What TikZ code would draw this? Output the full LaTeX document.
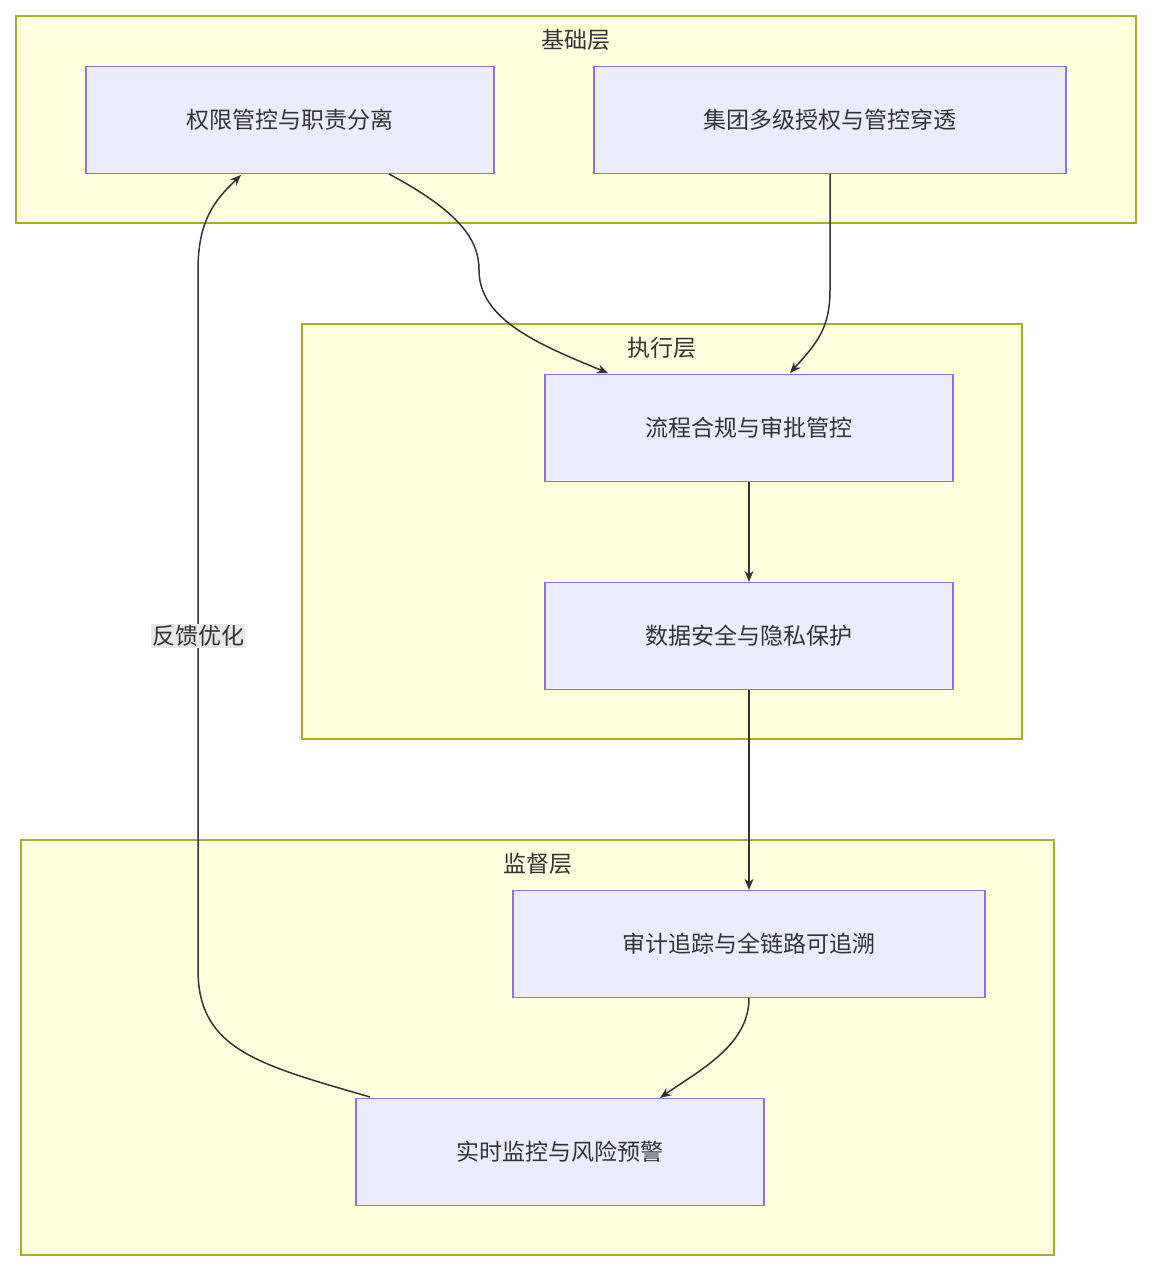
\documentclass[tikz,border=0pt]{standalone}
\usepackage{fontspec}
\setmainfont{Noto Sans CJK SC}
\usetikzlibrary{arrows.meta}
\definecolor{clf}{HTML}{FFFFDE}
\definecolor{cls}{HTML}{AAAA33}
\definecolor{ndf}{HTML}{ECECFF}
\definecolor{nds}{HTML}{9370DB}
\definecolor{ed}{HTML}{333333}
\definecolor{lbg}{HTML}{E8E8E8}
\begin{document}
\begin{tikzpicture}[x=1pt,y=-1pt,
  cluster/.style={draw=cls,fill=clf,line width=1.3pt},
  ctitle/.style={text=ed,font=\fontsize{23}{26}\selectfont,inner sep=0pt},
  box/.style={draw=nds,fill=ndf,line width=1.3pt,minimum height=107pt,text=ed,font=\fontsize{23}{26}\selectfont},
  arr/.style={draw=ed,line width=1.5pt,-{Stealth[length=11pt,width=9pt]}}]
\useasboundingbox (0,0) rectangle (1152,1272);
\draw[cluster] (16,16) rectangle (1136,223);
\draw[cluster] (302,324) rectangle (1022,739);
\draw[cluster] (21,840) rectangle (1054,1255);
\node[ctitle] (t1) at (576,40) {基础层};
\node[ctitle] (t2) at (662,348) {执行层};
\node[ctitle] (t3) at (538,864) {监督层};
\node[box,minimum width=408pt] (A) at (290,120) {权限管控与职责分离};
\node[box,minimum width=472pt] (B) at (830,120) {集团多级授权与管控穿透};
\node[box,minimum width=408pt] (C) at (749,428) {流程合规与审批管控};
\node[box,minimum width=408pt] (D) at (749,636) {数据安全与隐私保护};
\node[box,minimum width=472pt] (E) at (749,944) {审计追踪与全链路可追溯};
\node[box,minimum width=408pt] (F) at (560,1152) {实时监控与风险预警};
\coordinate (a1) at (389,174);
\coordinate (c1) at (608,373);
\coordinate (c2) at (790,373);
\coordinate (f1) at (370,1097);
\coordinate (a2) at (241,175);
\draw[arr] (a1) .. controls (460,212) and (479,240) .. (479,270) .. controls (479,320) and (540,345) .. (c1);
\draw[arr] (B.south) -- (830,290) .. controls (830,330) and (815,345) .. (c2);
\draw[arr] (C) -- (D);
\draw[arr] (D) -- (E);
\draw[arr] (E.south) .. controls (749,1045) and (700,1070) .. (F.north -| 660,0);
\draw[arr] (f1) .. controls (260,1065) and (198,1050) .. (198,970) -- (198,270) .. controls (198,220) and (215,200) .. (a2);
\node[fill=lbg,text=ed,font=\fontsize{23}{26}\selectfont,inner sep=1pt] (L) at (198,636) {反馈优化};
\end{tikzpicture}
\end{document}
